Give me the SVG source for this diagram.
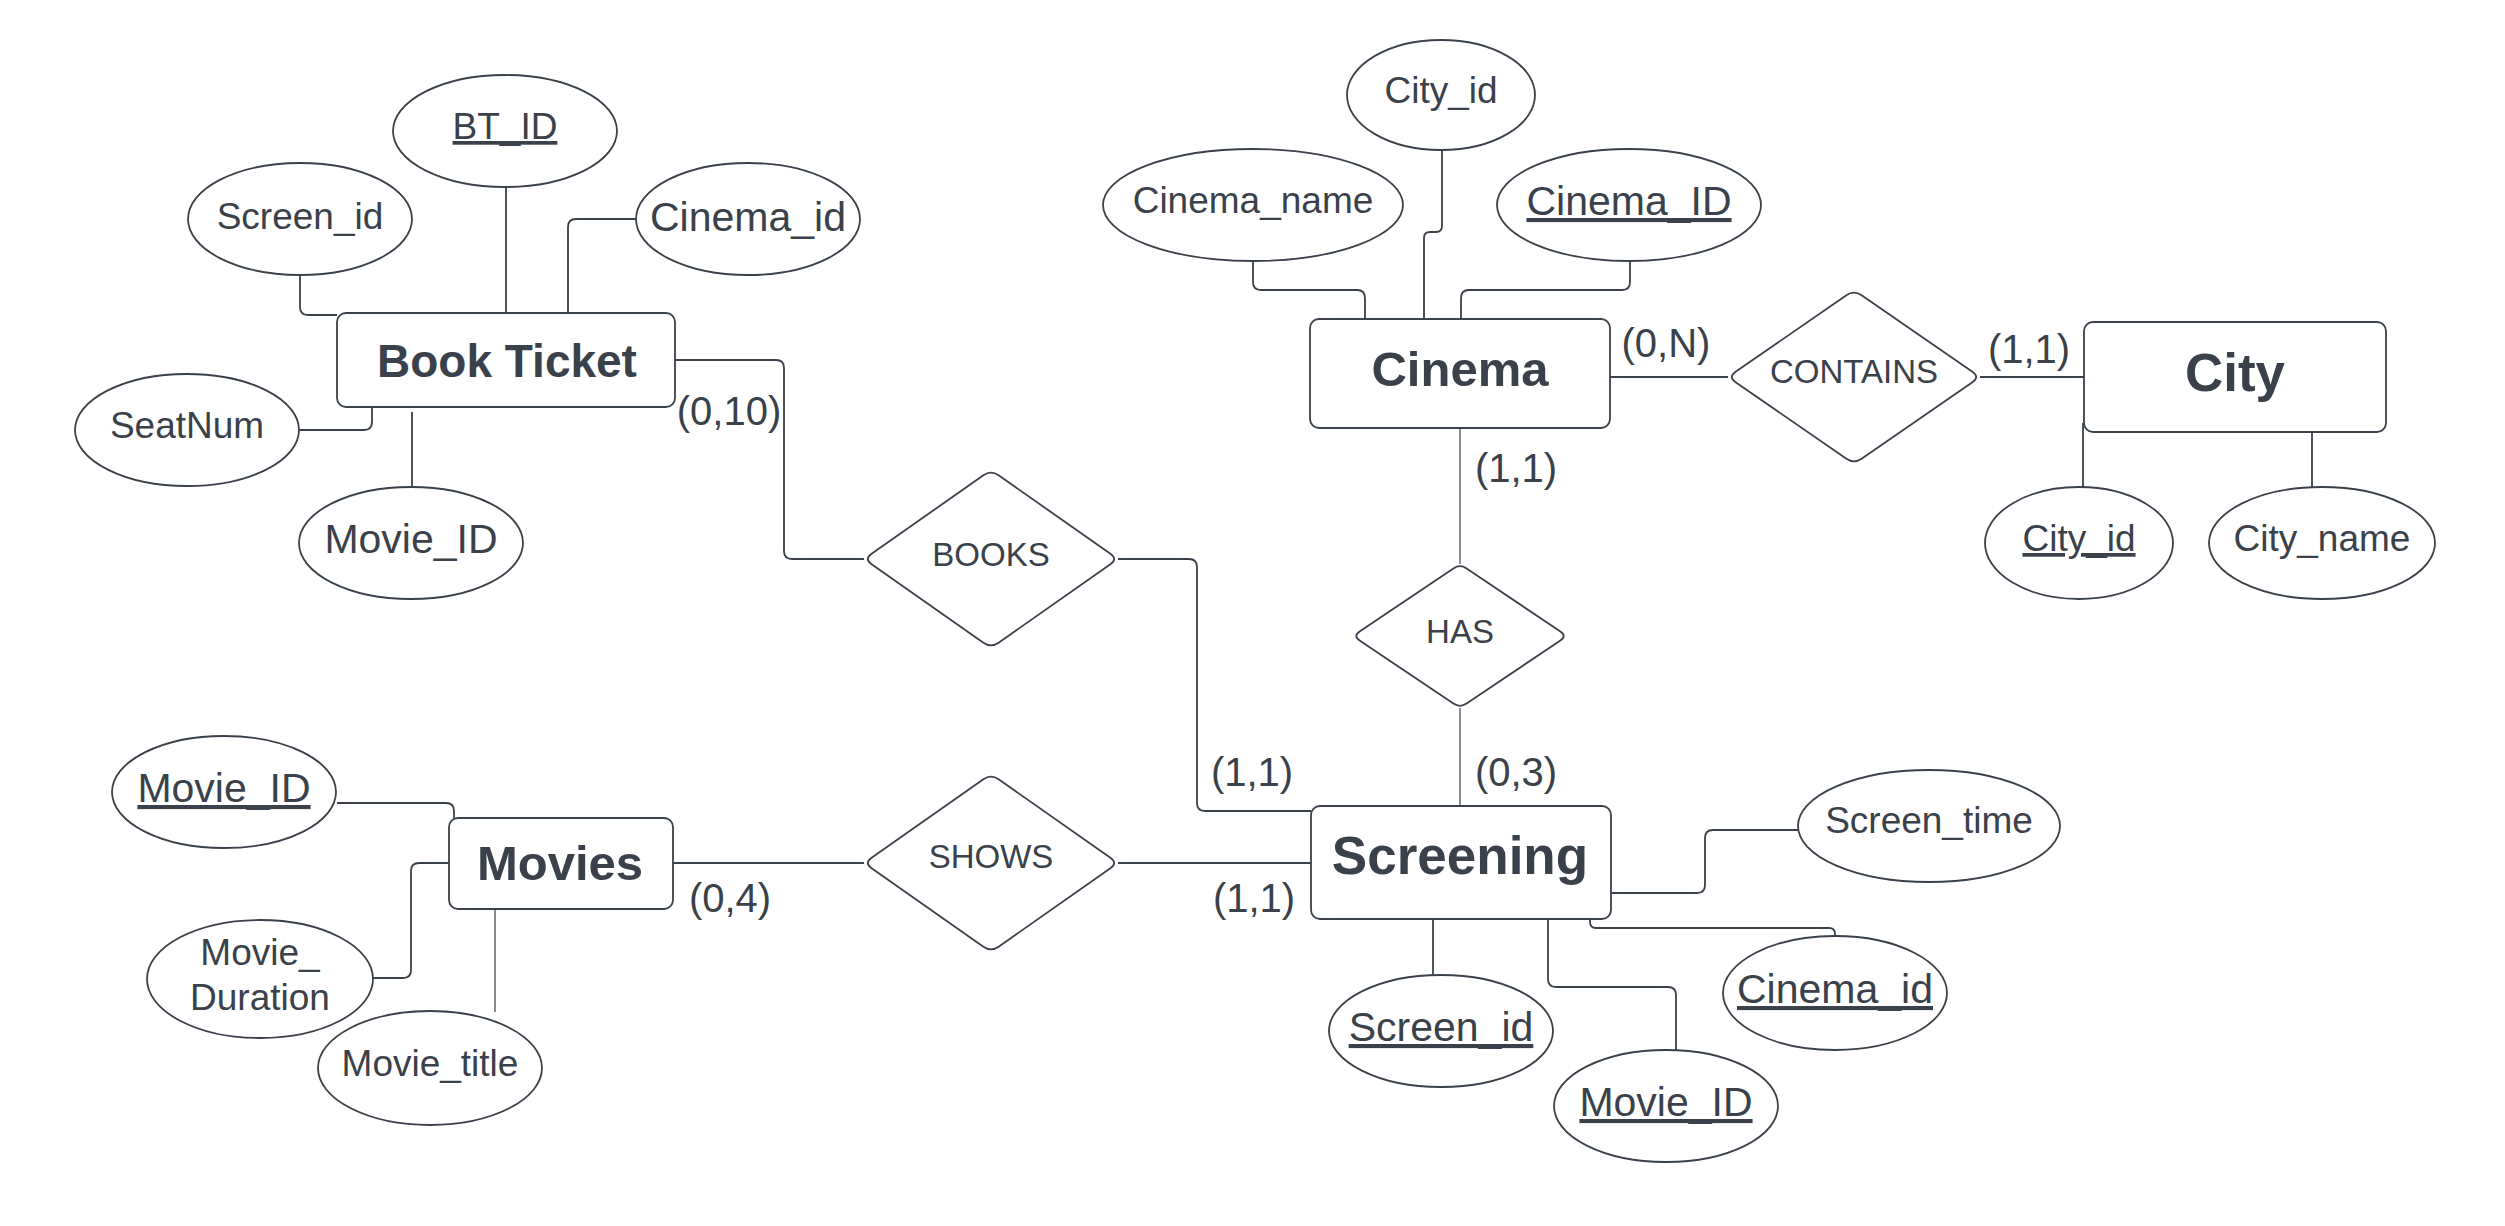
<svg xmlns="http://www.w3.org/2000/svg" width="2505" height="1226" viewBox="0 0 2505 1226">
<style>
.bg{fill:#ffffff}
.ent{fill:#ffffff;stroke:#3a414a;stroke-width:1.8}
.att{fill:#ffffff;stroke:#3a414a;stroke-width:1.8}
.rel{fill:#ffffff;stroke:#3a414a;stroke-width:1.8}
.ln{fill:none;stroke:#3a414a;stroke-width:1.8}
.thin{fill:none;stroke:#3a414a;stroke-width:1.2}
text{font-family:"Liberation Sans",Arial,sans-serif;fill:#3a414a;text-anchor:middle}
.et{font-weight:bold}
.a37{font-size:37px}
.a41{font-size:41px}
.rt{font-size:33px}
.card{font-size:40px}
.u{text-decoration:underline}
</style>
<rect class="bg" x="0" y="0" width="2505" height="1226"/>

<g id="connectors">
  <!-- Book Ticket attributes -->
  <path class="ln" d="M506,187 V313"/>
  <path class="ln" d="M300,275 V307 Q300,315 308,315 H337"/>
  <path class="ln" d="M636,219 H576 Q568,219 568,227 V313"/>
  <path class="ln" d="M299,430 H364 Q372,430 372,422 V407"/>
  <path class="ln" d="M412,412 V487"/>
  <!-- BOOKS -->
  <path class="ln" d="M675,360 H776 Q784,360 784,368 V551 Q784,559 792,559 H864"/>
  <path class="ln" d="M1118,559 H1189 Q1197,559 1197,567 V803 Q1197,811 1205,811 H1311"/>
  <!-- SHOWS -->
  <path class="ln" d="M673,863 H864"/>
  <path class="ln" d="M1118,863 H1311"/>
  <!-- HAS -->
  <path class="thin" d="M1460,428 V564"/>
  <path class="thin" d="M1460,708 V806"/>
  <!-- CONTAINS -->
  <path class="ln" d="M1610,377 H1728"/>
  <path class="ln" d="M1980,377 H2084"/>
  <!-- Cinema attributes -->
  <path class="ln" d="M1253,261 V282 Q1253,290 1261,290 H1357 Q1365,290 1365,298 V319"/>
  <path class="ln" d="M1442,150 V226 Q1442,232 1436,232 H1430 Q1424,232 1424,238 V319"/>
  <path class="ln" d="M1630,261 V282 Q1630,290 1622,290 H1469 Q1461,290 1461,298 V319"/>
  <!-- City attributes -->
  <path class="ln" d="M2083,423 V487"/>
  <path class="ln" d="M2312,432 V487"/>
  <!-- Screening attributes -->
  <path class="ln" d="M1798,830 H1713 Q1705,830 1705,838 V885 Q1705,893 1697,893 H1611"/>
  <path class="ln" d="M1590,919 V922 Q1590,928 1596,928 H1829 Q1835,928 1835,934 V937"/>
  <path class="ln" d="M1433,919 V975"/>
  <path class="ln" d="M1548,919 V979 Q1548,987 1556,987 H1668 Q1676,987 1676,995 V1051"/>
  <!-- Movies attributes -->
  <path class="ln" d="M337,803 H446 Q454,803 454,811 V818"/>
  <path class="ln" d="M372,978 H403 Q411,978 411,970 V871 Q411,863 419,863 H449"/>
  <path class="thin" d="M495,909 V1012"/>
</g>

<g id="cardinalities">
  <text class="card" x="729" y="425">(0,10)</text>
  <text class="card" x="1252" y="786">(1,1)</text>
  <text class="card" x="730" y="912">(0,4)</text>
  <text class="card" x="1254" y="912">(1,1)</text>
  <text class="card" x="1516" y="482">(1,1)</text>
  <text class="card" x="1516" y="786">(0,3)</text>
  <text class="card" x="1666" y="357">(0,N)</text>
  <text class="card" x="2029" y="363">(1,1)</text>
</g>

<!-- Entities -->
<g id="book-ticket">
  <rect class="ent" x="337" y="313" width="338" height="94" rx="9"/>
  <text class="et" x="507" y="377" font-size="46">Book Ticket</text>
</g>
<g id="cinema">
  <rect class="ent" x="1310" y="319" width="300" height="109" rx="9"/>
  <text class="et" x="1460" y="386" font-size="49">Cinema</text>
</g>
<g id="city">
  <rect class="ent" x="2084" y="322" width="302" height="110" rx="9"/>
  <text class="et" x="2235" y="391" font-size="53">City</text>
</g>
<g id="movies">
  <rect class="ent" x="449" y="818" width="224" height="91" rx="9"/>
  <text class="et" x="560" y="880" font-size="49">Movies</text>
</g>
<g id="screening">
  <rect class="ent" x="1311" y="806" width="300" height="113" rx="9"/>
  <text class="et" x="1460" y="874" font-size="53">Screening</text>
</g>

<!-- Relationships -->
<g id="books">
  <path class="rel" d="M871.6,553.7 L983.4,475.3 Q991,470 998.6,475.3 L1110.4,553.7 Q1118,559 1110.4,564.3 L998.6,642.7 Q991,648 983.4,642.7 L871.6,564.3 Q864,559 871.6,553.7 Z"/>
  <text class="rt" x="991" y="566">BOOKS</text>
</g>
<g id="shows">
  <path class="rel" d="M871.6,857.7 L983.4,779.3 Q991,774 998.6,779.3 L1110.4,857.7 Q1118,863 1110.4,868.3 L998.6,946.7 Q991,952 983.4,946.7 L871.6,868.3 Q864,863 871.6,857.7 Z"/>
  <text class="rt" x="991" y="868">SHOWS</text>
</g>
<g id="has">
  <path class="rel" d="M1359.6,631.6 L1453.4,568.4 Q1460,564 1466.6,568.4 L1560.4,631.6 Q1567,636 1560.4,640.4 L1466.6,703.6 Q1460,708 1453.4,703.6 L1359.6,640.4 Q1353,636 1359.6,631.6 Z"/>
  <text class="rt" x="1460" y="643">HAS</text>
</g>
<g id="contains">
  <path class="rel" d="M1735.6,371.8 L1846.4,295.2 Q1854,290 1861.6,295.2 L1972.4,371.8 Q1980,377 1972.4,382.2 L1861.6,458.8 Q1854,464 1846.4,458.8 L1735.6,382.2 Q1728,377 1735.6,371.8 Z"/>
  <text class="rt" x="1854" y="383">CONTAINS</text>
</g>

<!-- Book Ticket attributes -->
<g id="bt-btid">
  <ellipse class="att" cx="505" cy="131" rx="112" ry="56"/>
  <text class="a37 u" x="505" y="139">BT_ID</text>
</g>
<g id="bt-screenid">
  <ellipse class="att" cx="300" cy="219" rx="112" ry="56"/>
  <text class="a37" x="300" y="229">Screen_id</text>
</g>
<g id="bt-cinemaid">
  <ellipse class="att" cx="748" cy="219" rx="112" ry="56"/>
  <text class="a41" x="748" y="231">Cinema_id</text>
</g>
<g id="bt-seatnum">
  <ellipse class="att" cx="187" cy="430" rx="112" ry="56"/>
  <text class="a37" x="187" y="438">SeatNum</text>
</g>
<g id="bt-movieid">
  <ellipse class="att" cx="411" cy="543" rx="112" ry="56"/>
  <text class="a41" x="411" y="553">Movie_ID</text>
</g>

<!-- Cinema attributes -->
<g id="cinema-cityid">
  <ellipse class="att" cx="1441" cy="95" rx="94" ry="55"/>
  <text class="a37" x="1441" y="103">City_id</text>
</g>
<g id="cinema-name">
  <ellipse class="att" cx="1253" cy="205" rx="150" ry="56"/>
  <text class="a37" x="1253" y="213">Cinema_name</text>
</g>
<g id="cinema-id">
  <ellipse class="att" cx="1629" cy="205" rx="132" ry="56"/>
  <text class="a41 u" x="1629" y="215">Cinema_ID</text>
</g>

<!-- City attributes -->
<g id="city-id">
  <ellipse class="att" cx="2079" cy="543" rx="94" ry="56"/>
  <text class="a37 u" x="2079" y="551">City_id</text>
</g>
<g id="city-name">
  <ellipse class="att" cx="2322" cy="543" rx="113" ry="56"/>
  <text class="a37" x="2322" y="551">City_name</text>
</g>

<!-- Screening attributes -->
<g id="scr-time">
  <ellipse class="att" cx="1929" cy="826" rx="131" ry="56"/>
  <text class="a37" x="1929" y="833">Screen_time</text>
</g>
<g id="scr-cinemaid">
  <ellipse class="att" cx="1835" cy="993" rx="112" ry="57"/>
  <text class="a41 u" x="1835" y="1003">Cinema_id</text>
</g>
<g id="scr-screenid">
  <ellipse class="att" cx="1441" cy="1031" rx="112" ry="56"/>
  <text class="a41 u" x="1441" y="1041">Screen_id</text>
</g>
<g id="scr-movieid">
  <ellipse class="att" cx="1666" cy="1106" rx="112" ry="56"/>
  <text class="a41 u" x="1666" y="1116">Movie_ID</text>
</g>

<!-- Movies attributes -->
<g id="mv-movieid">
  <ellipse class="att" cx="224" cy="792" rx="112" ry="56"/>
  <text class="a41 u" x="224" y="802">Movie_ID</text>
</g>
<g id="mv-duration">
  <ellipse class="att" cx="260" cy="979" rx="113" ry="59"/>
  <text class="a37" x="260" y="965">Movie_</text>
  <text class="a37" x="260" y="1010">Duration</text>
</g>
<g id="mv-title">
  <ellipse class="att" cx="430" cy="1068" rx="112" ry="57"/>
  <text class="a37" x="430" y="1076">Movie_title</text>
</g>
</svg>
